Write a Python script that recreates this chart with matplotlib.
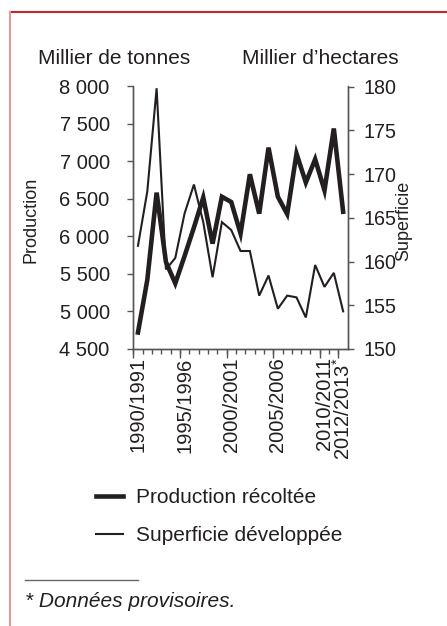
import matplotlib
matplotlib.use("Agg")
import matplotlib.pyplot as plt
from matplotlib.lines import Line2D
from matplotlib.ticker import FuncFormatter

plt.rcParams['font.family'] = ['Liberation Sans', 'DejaVu Sans']
plt.rcParams['mathtext.fontset'] = 'custom'
plt.rcParams['mathtext.rm'] = 'Liberation Sans'

# campagnes 1990/1991 .. 2012/2013 (2012/2013 provisoire)
campagnes = ['1990/1991', '1991/1992', '1992/1993', '1993/1994', '1994/1995',
             '1995/1996', '1996/1997', '1997/1998', '1998/1999', '1999/2000',
             '2000/2001', '2001/2002', '2002/2003', '2003/2004', '2004/2005',
             '2005/2006', '2006/2007', '2007/2008', '2008/2009', '2009/2010',
             '2010/2011', '2011/2012', '2012/2013$^{*}$']
# milliers de tonnes
production = [4720, 5420, 6585, 5660, 5375, 5740, 6120, 6520, 5905, 6530,
              6460, 6040, 6830, 6305, 7185, 6530, 6300, 7105, 6720, 7030,
              6615, 7440, 6330]
# milliers d'hectares
superficie = [161.8, 168.0, 179.8, 159.1, 160.4, 165.5, 168.8, 164.5, 158.2,
              164.5, 163.6, 161.2, 161.2, 156.1, 158.4, 154.6, 156.1, 155.9,
              153.6, 159.6, 157.1, 158.7, 154.3]
labelled = [0, 5, 10, 15, 20, 22]

ink = '#231f20'
W, H = 447, 626

fig = plt.figure(figsize=(W / 100, H / 100), dpi=100)
ax = fig.add_axes([133.3 / W, 1 - 349 / H, 214.5 / W, 262.5 / H])
ax2 = ax.twinx()

x = list(range(len(campagnes)))
l1, = ax.plot(x, production, color=ink, lw=3.3, solid_joinstyle='miter', zorder=3)
l2, = ax2.plot(x, superficie, color=ink, lw=1.5, solid_joinstyle='miter')

ax.set_xlim(-0.5, len(campagnes) - 0.5)
ax.set_ylim(4500, 8000)
ax2.set_ylim(150, 180)
ax.set_yticks(range(4500, 8001, 500))
ax.yaxis.set_major_formatter(FuncFormatter(lambda v, p: '{:,}'.format(int(v)).replace(',', ' ')))
ax2.set_yticks(range(150, 181, 5))

for a in (ax, ax2):
    a.spines['top'].set_visible(False)
    for s in ('left', 'right', 'bottom'):
        a.spines[s].set_color('#555555')
        a.spines[s].set_linewidth(1.0)
ax.patch.set_visible(False)

ax.tick_params(axis='y', direction='out', length=4.5, width=1, color='#555555',
               labelsize=14.5, labelcolor=ink, pad=12.5)
ax2.tick_params(axis='y', direction='out', length=4, width=1, color='#555555',
                labelsize=14.2, labelcolor=ink, pad=7)

# labels at category centres, ticks on category boundaries
ax.set_xticks(labelled)
ax.set_xticklabels([campagnes[i] for i in labelled], rotation=90)
ax.set_xticks([i - 0.5 for i in x], minor=True)
ax.tick_params(axis='x', which='major', length=0, labelsize=14.5, labelcolor=ink, pad=6)
ax.tick_params(axis='x', which='minor', length=3.5, width=1, color='#555555')
sec = ax.secondary_xaxis('bottom')
sec.set_xticks([i - 0.5 for i in labelled])
sec.tick_params(axis='x', length=6.5, width=1, color='#555555', labelbottom=False)
sec.spines['bottom'].set_visible(False)

fig.text(38 / W, 1 - 64 / H, 'Millier de tonnes', fontsize=15, color=ink, va='baseline')
fig.text(241.5 / W, 1 - 64 / H, 'Millier d\u2019hectares', fontsize=15, color=ink, va='baseline')
fig.text(31.5 / W, 1 - 220 / H, 'Production', rotation=90, fontsize=13, color=ink,
         ha='center', va='center')
fig.text(404 / W, 1 - 221 / H, 'Superficie', rotation=90, fontsize=13, color=ink,
         ha='center', va='center')

fig.legend([l1, l2], ['Production récoltée', 'Superficie développée'],
           loc='upper left', bbox_to_anchor=(88 / W, 1 - 480 / H), frameon=False,
           fontsize=15, handlelength=1.3, handletextpad=0.6, labelspacing=0.9,
           labelcolor=ink, borderaxespad=0)

# footnote
fig.add_artist(Line2D([25 / W, 138 / W], [1 - 580 / H, 1 - 580 / H], color='#666666', lw=1))
fig.text(25 / W, 1 - 607 / H, '* Données provisoires.', fontsize=15, style='italic',
         color=ink, va='baseline')

# frame of the page
fig.add_artist(Line2D([10 / W, 1], [1 - 11.5 / H, 1 - 11.5 / H], color='#c0282d', lw=1.5))
fig.add_artist(Line2D([10 / W, 10 / W], [0, 1 - 11.5 / H], color='#e39a97', lw=1.5))

fig.savefig('out.png', dpi=100)
